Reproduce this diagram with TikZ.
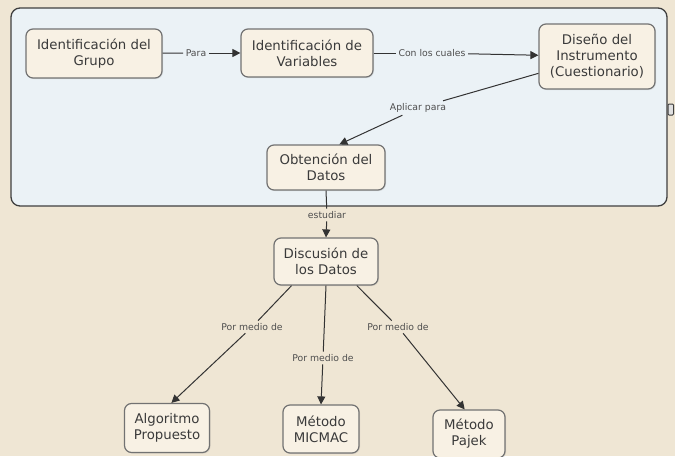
\documentclass[tikz,border=0pt]{standalone}
\usepackage{fontspec}
\setmainfont{DejaVu Sans}
\usetikzlibrary{arrows.meta,shadows}

\definecolor{parch}{HTML}{EFE6D4}
\definecolor{panelfill}{HTML}{EBF2F6}
\definecolor{panelline}{HTML}{3F3F3F}
\definecolor{nodefill}{HTML}{F8F1E4}
\definecolor{nodeline}{HTML}{727272}
\definecolor{nodetext}{HTML}{3A3A3A}
\definecolor{phrasetext}{HTML}{4E4E4E}
\definecolor{linkcol}{HTML}{333333}

\begin{document}
\begin{tikzpicture}[x=1pt,y=-1pt,
  concept/.style={draw=nodeline, fill=nodefill, rounded corners=7pt,
    line width=1.2pt, align=center, inner sep=0pt, text=nodetext,
    font=\fontsize{13.3}{16}\selectfont,
    drop shadow={shadow xshift=1pt, shadow yshift=-1pt, opacity=.18}},
  phrase/.style={font=\fontsize{9.3}{11}\selectfont, text=phrasetext, inner sep=2.5pt},
  link/.style={draw=linkcol, line width=1pt},
  arrow/.style={link, -{Triangle[length=8pt,width=8pt]}}
]
% page and parchment background
\useasboundingbox (0,0) rectangle (675,456);
\fill[parch] (0,0) rectangle (675,456);

% upper panel grouping the first four concepts
\draw[draw=panelline, fill=panelfill, line width=1.3pt, rounded corners=9pt]
  (11,8) rectangle (667,206);
\draw[draw=panelline, fill=black!12, line width=1pt, rounded corners=1pt]
  (668,104) rectangle (673.5,115);

% concepts
\node[concept, minimum width=136pt, minimum height=49pt] (grupo) at (94,53.5)
  {Identificación del\\Grupo};
\node[concept, minimum width=132pt, minimum height=48pt] (variables) at (307,53)
  {Identificación de\\Variables};
\node[concept, minimum width=116pt, minimum height=65pt] (diseno) at (597,56.5)
  {Diseño del\\Instrumento\\(Cuestionario)};
\node[concept, minimum width=118pt, minimum height=45pt] (obtencion) at (326,167.5)
  {Obtención del\\Datos};
\node[concept, minimum width=104pt, minimum height=47pt] (discusion) at (326,261.5)
  {Discusión de\\los Datos};
\node[concept, minimum width=85pt, minimum height=49pt] (algoritmo) at (167,428)
  {Algoritmo\\Propuesto};
\node[concept, minimum width=76pt, minimum height=48pt] (micmac) at (321,429)
  {Método\\MICMAC};
\node[concept, minimum width=72pt, minimum height=48pt] (pajek) at (469,434)
  {Método\\Pajek};

% linking phrases
\node[phrase] (para)    at (196,53)  {Para};
\node[phrase] (cuales)  at (432,53)  {Con los cuales};
\node[phrase] (aplicar) at (418,108) {Aplicar para};
\node[phrase] (estudiar) at (327,215) {estudiar};
\node[phrase] (medioA)  at (252,327) {Por medio de};
\node[phrase] (medioB)  at (323,358) {Por medio de};
\node[phrase] (medioC)  at (398,327) {Por medio de};

% connectors: concept -- phrase -> concept
\draw[link]  (grupo) -- (para);
\draw[arrow] (para) -- (variables);
\draw[link]  (variables) -- (cuales);
\draw[arrow] (cuales) -- (diseno);
\draw[link]  (diseno) -- (aplicar);
\draw[arrow] (aplicar) -- (obtencion.60);
\draw[link]  (obtencion.south) -- (estudiar);
\draw[arrow] (estudiar) -- (discusion.north);
\draw[link]  (discusion.215) -- (medioA);
\draw[arrow] (medioA) -- (algoritmo.80);
\draw[link]  (discusion.south) -- (medioB);
\draw[arrow] (medioB) -- (micmac.north);
\draw[link]  (discusion.-38) -- (medioC);
\draw[arrow] (medioC) -- (pajek.100);
\end{tikzpicture}
\end{document}
